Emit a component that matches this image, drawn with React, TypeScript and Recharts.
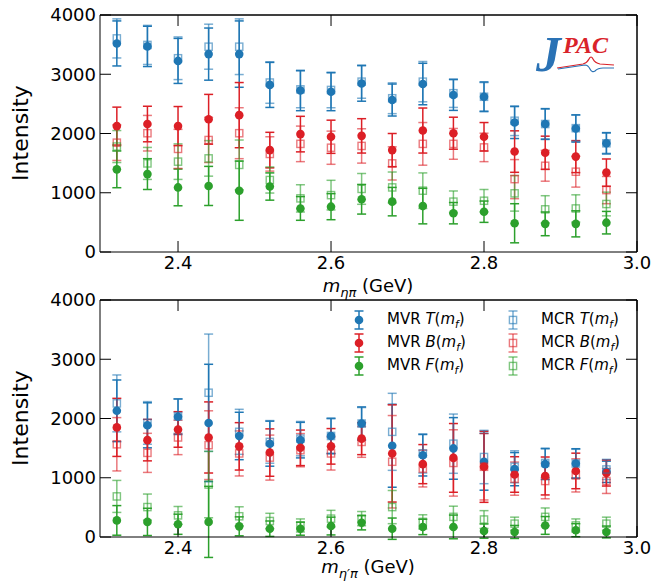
import React from "react";
import { ScatterChart, Scatter, XAxis, YAxis, ErrorBar, ReferenceLine } from "recharts";

// bin centres (GeV)
const masses = [2.32, 2.36, 2.4, 2.44, 2.48, 2.52, 2.56, 2.6, 2.64, 2.68, 2.72, 2.76, 2.8, 2.84, 2.88, 2.92, 2.96];
const xTicks = [2.4, 2.6, 2.8, 3.0];
const yTicks = [0, 1000, 2000, 3000, 4000];
const X_MIN = 2.298;
const X_MAX = 3.0;
const Y_MAX = 4000;

// eta pi panel
const etaPiMvrT = [3520, 3470, 3225, 3340, 3340, 2820, 2725, 2705, 2845, 2565, 2835, 2650, 2620, 2185, 2160, 2085, 1835];
const etaPiMvrTErr = [380, 340, 380, 440, 560, 380, 340, 320, 300, 270, 350, 260, 250, 270, 260, 230, 180];
const etaPiMcrT = [3605, 3495, 3270, 3465, 3465, 2860, 2745, 2735, 2875, 2595, 2875, 2680, 2620, 2215, 2160, 2090, 1835];
const etaPiMcrTErr = [330, 330, 360, 380, 470, 350, 310, 300, 280, 260, 340, 240, 240, 250, 250, 220, 170];
const etaPiMvrB = [2125, 2160, 2125, 2240, 2310, 1720, 1990, 1945, 1960, 1720, 2050, 2005, 1945, 1695, 1675, 1610, 1340];
const etaPiMvrBErr = [320, 300, 330, 420, 550, 300, 300, 280, 290, 280, 380, 270, 240, 350, 280, 270, 230];
const etaPiMcrB = [1845, 2005, 1740, 1890, 2005, 1655, 1825, 1760, 1790, 1495, 1825, 1825, 1765, 1230, 1455, 1355, 1045];
const etaPiMcrBErr = [300, 300, 330, 380, 430, 290, 300, 280, 290, 280, 360, 260, 240, 330, 260, 260, 230];
const etaPiMvrF = [1395, 1315, 1090, 1115, 1035, 1105, 735, 765, 890, 850, 775, 655, 680, 485, 475, 475, 495];
const etaPiMvrFErr = [310, 260, 310, 330, 500, 230, 200, 220, 250, 240, 300, 180, 180, 330, 200, 220, 190];
const etaPiMcrF = [1780, 1495, 1525, 1580, 1470, 1215, 905, 960, 1065, 1090, 1035, 850, 865, 990, 720, 735, 810];
const etaPiMcrFErr = [270, 270, 300, 300, 420, 220, 230, 250, 260, 260, 300, 180, 190, 300, 230, 230, 200];

// eta' pi panel
const etaPrimeMvrT = [2130, 1885, 2030, 1925, 1705, 1575, 1635, 1705, 1915, 1540, 1380, 1495, 1270, 1145, 1230, 1240, 1100];
const etaPrimeMvrTErr = [520, 380, 300, 990, 400, 380, 300, 300, 280, 700, 350, 520, 480, 280, 260, 250, 180];
const etaPrimeMcrT = [2255, 1925, 2040, 2435, 1775, 1605, 1660, 1705, 1915, 1775, 1410, 1575, 1350, 1185, 1250, 1240, 1140];
const etaPrimeMcrTErr = [480, 360, 290, 990, 380, 360, 290, 290, 270, 650, 330, 500, 450, 270, 250, 240, 170];
const etaPrimeMvrB = [1850, 1635, 1815, 1680, 1530, 1425, 1505, 1530, 1660, 1410, 1230, 1335, 1185, 1055, 1030, 1115, 1080];
const etaPrimeMvrBErr = [490, 350, 300, 600, 400, 400, 300, 300, 270, 820, 330, 580, 600, 300, 320, 300, 220];
const etaPrimeMcrB = [1565, 1420, 1680, 1550, 1410, 1340, 1465, 1410, 1605, 1270, 1155, 1250, 1185, 985, 945, 1040, 945];
const etaPrimeMcrBErr = [450, 330, 290, 580, 380, 380, 280, 280, 260, 780, 310, 560, 560, 280, 300, 280, 210];
const etaPrimeMvrF = [280, 255, 215, 255, 180, 140, 140, 185, 240, 140, 170, 170, 100, 85, 195, 115, 85];
const etaPrimeMvrFErr = [250, 230, 170, 600, 160, 130, 110, 150, 120, 180, 130, 200, 120, 110, 150, 110, 100];
const etaPrimeMcrF = [685, 505, 365, 885, 350, 270, 195, 310, 310, 505, 255, 340, 295, 225, 340, 195, 225];
const etaPrimeMcrFErr = [270, 220, 150, 560, 160, 130, 110, 140, 120, 280, 120, 180, 150, 110, 150, 110, 110];

const BLUE = "#1f77b4";
const RED = "#dc1f26";
const GREEN = "#2ca02c";
const FONT = "DejaVu Sans";

const toRows = (vals: number[], errs: number[]) =>
  masses.map((x, i) => ({ x, y: vals[i], err: errs[i] }));

const fade = (c: string) => c + "99";

type Series = { name: string; rows: any[]; color: string; open: boolean };

const makeSeries = (
  mvrT: number[], mvrTE: number[], mvrB: number[], mvrBE: number[], mvrF: number[], mvrFE: number[],
  mcrT: number[], mcrTE: number[], mcrB: number[], mcrBE: number[], mcrF: number[], mcrFE: number[]
): Series[] => [
  { name: "MVR T", rows: toRows(mvrT, mvrTE), color: BLUE, open: false },
  { name: "MVR B", rows: toRows(mvrB, mvrBE), color: RED, open: false },
  { name: "MVR F", rows: toRows(mvrF, mvrFE), color: GREEN, open: false },
  { name: "MCR T", rows: toRows(mcrT, mcrTE), color: BLUE, open: true },
  { name: "MCR B", rows: toRows(mcrB, mcrBE), color: RED, open: true },
  { name: "MCR F", rows: toRows(mcrF, mcrFE), color: GREEN, open: true },
];

const etaPiSeries = makeSeries(
  etaPiMvrT, etaPiMvrTErr, etaPiMvrB, etaPiMvrBErr, etaPiMvrF, etaPiMvrFErr,
  etaPiMcrT, etaPiMcrTErr, etaPiMcrB, etaPiMcrBErr, etaPiMcrF, etaPiMcrFErr
);
const etaPrimeSeries = makeSeries(
  etaPrimeMvrT, etaPrimeMvrTErr, etaPrimeMvrB, etaPrimeMvrBErr, etaPrimeMvrF, etaPrimeMvrFErr,
  etaPrimeMcrT, etaPrimeMcrTErr, etaPrimeMcrB, etaPrimeMcrBErr, etaPrimeMcrF, etaPrimeMcrFErr
);

const dotShape = (color: string) => (p: any) => <circle cx={p.cx} cy={p.cy} r={4.3} fill={color} />;
const boxShape = (color: string) => (p: any) => (
  <rect x={p.cx - 3.6} y={p.cy - 3.6} width={7.2} height={7.2} fill="none" stroke={fade(color)} strokeWidth={1.4} />
);

const tickStyle = { fill: "#000", fontSize: 18, fontFamily: FONT };
// top/right frame axes: tick marks only, no labels
const noLabel = () => <g />;

const Panel = ({ series, top }: { series: Series[]; top: number }) => (
  <div style={{ position: "absolute", left: 0, top, width: 665, height: 290 }}>
    <ScatterChart width={665} height={290} margin={{ top: 0, right: 0, bottom: 8, left: 30 }}>
      <XAxis xAxisId="b" type="number" dataKey="x" domain={[X_MIN, X_MAX]} ticks={xTicks} allowDataOverflow
        tickFormatter={(v: number) => v.toFixed(1)} tickSize={-11} tickMargin={15} height={30}
        stroke="#000" tick={tickStyle} />
      <XAxis xAxisId="t" orientation="top" type="number" dataKey="x" domain={[X_MIN, X_MAX]} ticks={xTicks}
        allowDataOverflow tickSize={-11} height={15} stroke="#000" tick={noLabel} />
      <YAxis yAxisId="l" type="number" dataKey="y" domain={[0, Y_MAX]} ticks={yTicks} allowDataOverflow
        tickSize={-11} tickMargin={15} width={70} stroke="#000" tick={tickStyle} />
      <YAxis yAxisId="r" orientation="right" type="number" dataKey="y" domain={[0, Y_MAX]} ticks={yTicks}
        allowDataOverflow tickSize={-11} width={28} stroke="#000" tick={noLabel} />
      <ReferenceLine xAxisId="b" yAxisId="l" y={Y_MAX} stroke="#000" ifOverflow="visible" />
      <ReferenceLine xAxisId="b" yAxisId="l" x={X_MAX} stroke="#000" ifOverflow="visible" />
      {series.map((s) => (
        <Scatter key={s.name} name={s.name} xAxisId="b" yAxisId="l" data={s.rows} dataKey="y"
          shape={s.open ? boxShape(s.color) : dotShape(s.color)} isAnimationActive={false}>
          <ErrorBar dataKey="err" direction="y" width={4.5} stroke={s.open ? fade(s.color) : s.color}
            strokeWidth={1.5} isAnimationActive={false} />
        </Scatter>
      ))}
    </ScatterChart>
  </div>
);

const LegendMark = ({ color, open }: { color: string; open: boolean }) => (
  <svg width={14} height={22} style={{ position: "absolute", left: -7, top: -11 }}>
    <line x1={7} y1={2} x2={7} y2={20} stroke={open ? fade(color) : color} strokeWidth={1.5} />
    <line x1={2.5} y1={2} x2={11.5} y2={2} stroke={open ? fade(color) : color} strokeWidth={1.5} />
    <line x1={2.5} y1={20} x2={11.5} y2={20} stroke={open ? fade(color) : color} strokeWidth={1.5} />
    {open ? (
      <rect x={3.4} y={7.4} width={7.2} height={7.2} fill="none" stroke={fade(color)} strokeWidth={1.4} />
    ) : (
      <circle cx={7} cy={11} r={4.3} fill={color} />
    )}
  </svg>
);

const legendItems = [
  { kind: "MVR", letter: "T", color: BLUE, open: false, col: 0, row: 0 },
  { kind: "MVR", letter: "B", color: RED, open: false, col: 0, row: 1 },
  { kind: "MVR", letter: "F", color: GREEN, open: false, col: 0, row: 2 },
  { kind: "MCR", letter: "T", color: BLUE, open: true, col: 1, row: 0 },
  { kind: "MCR", letter: "B", color: RED, open: true, col: 1, row: 1 },
  { kind: "MCR", letter: "F", color: GREEN, open: true, col: 1, row: 2 },
];

const Legend = () => (
  <>
    {legendItems.map((it) => {
      const mx = it.col === 0 ? 359 : 513;
      const cy = 320 + it.row * 23;
      return (
        <React.Fragment key={it.kind + it.letter}>
          <div style={{ position: "absolute", left: mx, top: cy, width: 0, height: 0 }}>
            <LegendMark color={it.color} open={it.open} />
          </div>
          <div style={{ position: "absolute", left: mx + 28, top: cy - 11, fontSize: 15, lineHeight: "20px", whiteSpace: "nowrap" }}>
            {it.kind} <i>{it.letter}</i>(<i>m</i><sub style={{ fontStyle: "italic", fontSize: "0.7em" }}>f</sub>)
          </div>
        </React.Fragment>
      );
    })}
  </>
);

const JpacLogo = () => (
  <svg style={{ position: "absolute", left: 528, top: 26 }} width={100} height={56}>
    <text x={8} y={45} fontFamily="Liberation Serif" fontStyle="italic" fontWeight="bold" fontSize={50} fill="#2a72b5">J</text>
    <text x={35} y={27} fontFamily="Liberation Serif" fontStyle="italic" fontWeight="bold" fontSize={24} fill="#d9232a">PAC</text>
    <path d="M29 42 L55 38 Q59 37 61 33 Q63 29 65 33 Q67 37 72 38 L86 39" stroke="#d9232a" fill="none" strokeWidth={1.2} />
    <path d="M30 43 L57 39 Q60 39 62 43 Q64 47 67 45 Q70 42 75 42 L86 42" stroke="#2a72b5" fill="none" strokeWidth={1.2} />
  </svg>
);

const YLabel = ({ cy }: { cy: number }) => (
  <div style={{ position: "absolute", left: 21, top: cy, width: 0, height: 0 }}>
    <div style={{ position: "absolute", left: -60, top: -14, width: 120, textAlign: "center", fontSize: 22, lineHeight: "28px", transform: "rotate(-90deg)" }}>
      Intensity
    </div>
  </div>
);

const XLabel = ({ top, sub }: { top: number; sub: string }) => (
  <div style={{ position: "absolute", left: 218, top, width: 300, textAlign: "center", fontSize: 18, lineHeight: "22px" }}>
    <i>m</i><sub style={{ fontStyle: "italic", fontSize: "0.72em" }}>{sub}</sub> (GeV)
  </div>
);

export default function App() {
  return (
    <div style={{ position: "absolute", left: 0, top: 0, width: 665, height: 583, background: "#fff", fontFamily: FONT, color: "#000" }}>
      <Panel series={etaPiSeries} top={0} />
      <Panel series={etaPrimeSeries} top={285} />
      <YLabel cy={133} />
      <YLabel cy={418} />
      <XLabel top={275} sub="ηπ" />
      <XLabel top={556} sub="η′π" />
      <JpacLogo />
      <Legend />
    </div>
  );
}
